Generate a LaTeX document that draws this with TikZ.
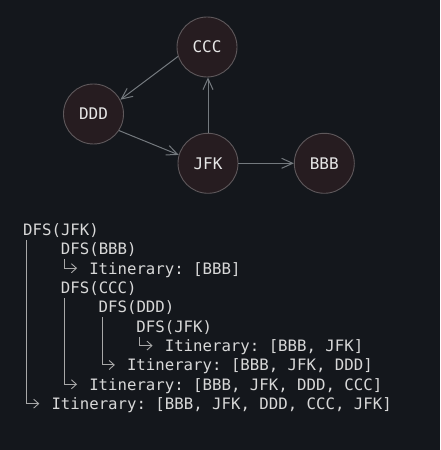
\documentclass[tikz,border=0pt]{standalone}
\usepackage{fontspec}
\setmonofont{DejaVu Sans Mono}
\usetikzlibrary{arrows.meta,calc}
\definecolor{bg}{HTML}{14171C}
\definecolor{nodefill}{HTML}{261C20}
\definecolor{nodeborder}{HTML}{5E585B}
\definecolor{nodetext}{HTML}{E6E6E6}
\definecolor{edgecol}{HTML}{74797E}
\definecolor{txt}{HTML}{D8D8D8}
\definecolor{treecol}{HTML}{A8A8A8}
\begin{document}
\begin{tikzpicture}[x=1pt,y=1pt,
  vertex/.style={circle,minimum size=60pt,inner sep=0pt,draw=nodeborder,line width=0.9pt,fill=nodefill,text=nodetext,font=\ttfamily\fontsize{16}{16}\selectfont},
  edge/.style={draw=edgecol,line width=1pt,-{Straight Barb[length=11pt,width=10pt]}},
  codeline/.style={anchor=base west,inner sep=0pt,text=txt,font=\ttfamily\fontsize{15.7}{19}\selectfont},
  tree/.style={draw=treecol,line width=0.9pt,-{Straight Barb[length=5pt,width=9pt]}}]
\fill[bg] (0,0) rectangle (440,450);
\useasboundingbox (0,0) rectangle (440,450);
% graph
\node[vertex] (ccc) at (207,403) {CCC};
\node[vertex] (ddd) at (93.5,336) {DDD};
\node[vertex] (jfk) at (208,286.7) {JFK};
\node[vertex] (bbb) at (324.3,286.7) {BBB};
\draw[edge] (ccc.198) -- (ddd.28);
\draw[edge] (ddd.-33) -- (jfk.164);
\draw[edge] (jfk.north) -- (jfk.north |- ccc.south);
\draw[edge] (jfk.east) -- (bbb.west);
% trace
\node[codeline] (l0) at (23,214.5) {DFS(JFK)};
\node[codeline] (l1) at (60.76,195.15) {DFS(BBB)};
\node[codeline] (l2) at (89.08,175.8) {Itinerary: [BBB]};
\node[codeline] (l3) at (60.76,156.45) {DFS(CCC)};
\node[codeline] (l4) at (98.52,137.1) {DFS(DDD)};
\node[codeline] (l5) at (136.28,117.75) {DFS(JFK)};
\node[codeline] (l6) at (164.6,98.4) {Itinerary: [BBB, JFK]};
\node[codeline] (l7) at (126.84,79.05) {Itinerary: [BBB, JFK, DDD]};
\node[codeline] (l8) at (89.08,59.7) {Itinerary: [BBB, JFK, DDD, CCC]};
\node[codeline] (l9) at (51.32,40.35) {Itinerary: [BBB, JFK, DDD, CCC, JFK]};
\draw[tree] ($(l1.base west)+(3.5,-4.5)$) |- ($(l2.base west)+(-12,6)$);
\draw[tree] ($(l5.base west)+(3.5,-4.5)$) |- ($(l6.base west)+(-12,6)$);
\draw[tree] ($(l4.base west)+(3.5,-4.5)$) |- ($(l7.base west)+(-12,6)$);
\draw[tree] ($(l3.base west)+(3.5,-4.5)$) |- ($(l8.base west)+(-12,6)$);
\draw[tree] ($(l0.base west)+(3.5,-4.5)$) |- ($(l9.base west)+(-12,6)$);
\end{tikzpicture}
\end{document}
